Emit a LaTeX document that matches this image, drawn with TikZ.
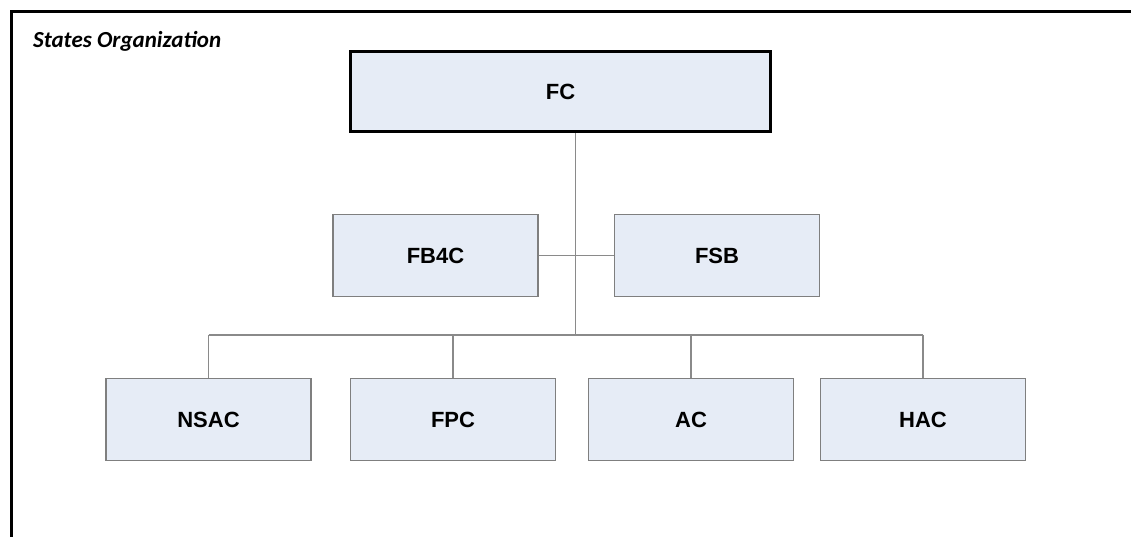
\documentclass[tikz,border=0pt]{standalone}
\usepackage{fontspec}
\setmainfont{Liberation Sans}
\newfontfamily\titlefont{Carlito}
\definecolor{boxfill}{HTML}{E6ECF6}
\definecolor{boxline}{HTML}{7F7F7F}
\definecolor{linkline}{HTML}{8A8A8A}
\begin{document}
\begin{tikzpicture}[x=1pt,y=-1pt,
  unit/.style={draw=boxline, line width=1.6pt, fill=boxfill, minimum width=205pt, minimum height=82pt, inner sep=0pt, font=\fontsize{22}{24}\selectfont\bfseries},
  topunit/.style={unit, draw=black, line width=3pt, minimum width=420pt, minimum height=80pt},
  link/.style={draw=linkline, line width=1.5pt}]
\useasboundingbox (0,0) rectangle (1131,536);
\fill[white] (0,0) rectangle (1131,536);
\draw[line width=3pt] (11.5,540) -- (11.5,11.5) -- (1140,11.5);
\node[anchor=base west, inner sep=0pt, font=\titlefont\fontsize{23}{25}\selectfont\bfseries\itshape] (title) at (33,47) {States Organization};
\node[topunit] (fc) at (560.5,91.5) {FC};
\node[unit] (fb4c) at (435.5,255.5) {FB4C};
\node[unit] (fsb) at (717,255.5) {FSB};
\node[unit] (nsac) at (208.5,419.5) {NSAC};
\node[unit] (fpc) at (453,419.5) {FPC};
\node[unit] (ac) at (691,419.5) {AC};
\node[unit] (hac) at (923,419.5) {HAC};
\coordinate (bus) at (575.5,335);
\coordinate (busl) at (208.5,335);
\coordinate (busr) at (923,335);
\draw[link] (fc.south -| bus) -- (bus);
\draw[link] (fb4c.east) -- (fsb.west);
\draw[link] (busl) -- (busr);
\draw[link] (busl) -- (nsac.north);
\draw[link] (fpc.north |- bus) -- (fpc.north);
\draw[link] (ac.north |- bus) -- (ac.north);
\draw[link] (busr) -- (hac.north);
\end{tikzpicture}
\end{document}
